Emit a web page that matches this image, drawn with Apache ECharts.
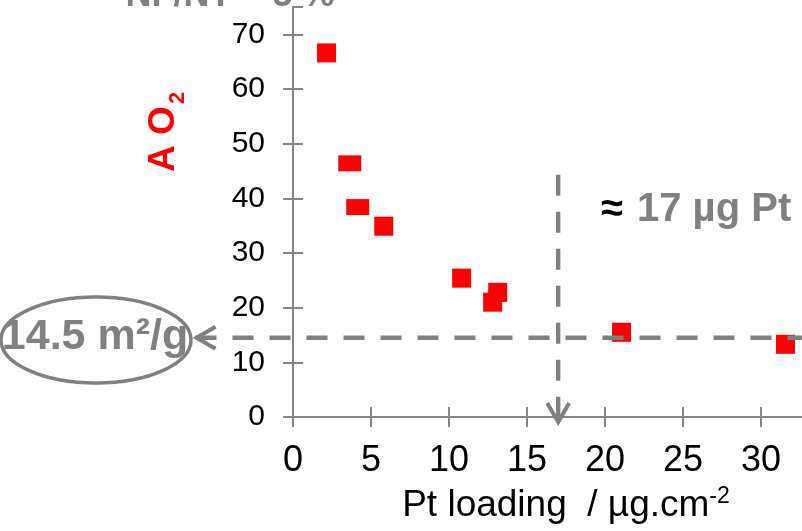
<!DOCTYPE html>
<html>
<head>
<meta charset="utf-8">
<script src="https://cdn.jsdelivr.net/npm/echarts@6/dist/echarts.min.js"></script>
<style>
  html, body { margin: 0; padding: 0; background: #ffffff; }
  #chart { width: 802px; height: 531px; }
</style>
</head>
<body>
<div id="chart"></div>
<script>
// Pt loading (µg/cm²) and the matching O2 area values
const loading = [2.15, 3.64, 4.15, 5.82, 10.81, 13.12, 12.80, 21.06, 31.57];
const areaO2  = [66.6, 46.4, 38.4, 34.9, 25.4, 22.8, 21.0, 15.5, 13.3];

// axis ranges and tick steps
const xRange = [0, 35];
const xStep = 5;
const yRange = [0, 75];
const yStep = 10;

// guide values: plateau area and threshold loading
const plateauArea = 14.5;       // m²/g
const thresholdLoading = 17;    // µg Pt
const guideLeftX = -6.25;       // where the plateau arrow ends (x units)
const guideTopY = 44.3;         // upper end of the threshold line (y units)
const guideBottomY = -1.1;      // tip of the threshold arrow (y units)

// texts
const titleText = 'NF/NT = 5 %';
const plateauText = '14.5 m²/g';
const thresholdText = '17 µg Pt';

const FONT = '"Liberation Sans", Arial, sans-serif';
const GREY = '#808080';
const AXIS = '#868686';

// marker sizes per point (two of the markers are slightly wider and flatter)
const markerSizes = [19, [23, 16], [23, 16], 19, 19, 19, 19, 19, 19];

const chart = echarts.init(document.getElementById('chart'), null, { renderer: 'canvas' });

const axisCommon = {
  type: 'value',
  splitLine: { show: false },
};

const option = {
  animation: false,
  backgroundColor: '#ffffff',
  // the plot area runs past the right edge of the canvas
  grid: { left: 293, width: 546, top: 7, height: 410, containLabel: false, outerBoundsMode: 'none' },
  xAxis: [
    Object.assign({}, axisCommon, {
      min: xRange[0], max: xRange[1], interval: xStep,
      position: 'bottom',
      axisLine: { lineStyle: { color: AXIS, width: 2 } },
      axisTick: { length: 10, lineStyle: { color: AXIS, width: 2 } },
      axisLabel: { fontSize: 36, color: '#000', margin: 26, fontFamily: FONT },
      name: 'Pt loading  / µg.cm{s|-2}',
      nameLocation: 'middle',
      nameGap: 68,
      nameTextStyle: {
        fontSize: 37, color: '#000', fontFamily: FONT, lineHeight: 41,
        rich: { s: { fontSize: 23, fontFamily: FONT, color: '#000', verticalAlign: 'top', lineHeight: 23 } }
      }
    }),
    Object.assign({}, axisCommon, {
      min: xRange[0], max: xRange[1], interval: xStep,
      position: 'bottom',
      axisLine: { show: false },
      axisTick: { inside: true, length: 10, lineStyle: { color: AXIS, width: 2 } },
      axisLabel: { show: false }
    })
  ],
  yAxis: [
    Object.assign({}, axisCommon, {
      min: yRange[0], max: yRange[1], interval: yStep,
      position: 'left',
      axisLine: { show: true, lineStyle: { color: AXIS, width: 2 } },
      axisTick: { show: true, length: 10, lineStyle: { color: AXIS, width: 2 } },
      axisLabel: { fontSize: 30, color: '#000', margin: 28, fontFamily: FONT }
    }),
    Object.assign({}, axisCommon, {
      min: yRange[0], max: yRange[1], interval: yStep,
      position: 'left',
      axisLine: { show: false },
      axisTick: { show: true, inside: true, length: 10, lineStyle: { color: AXIS, width: 2 } },
      axisLabel: { show: false }
    })
  ],
  series: [{
    type: 'scatter',
    xAxisIndex: 0,
    yAxisIndex: 0,
    symbol: 'rect',
    itemStyle: { color: '#ff0000', opacity: 1 },
    z: 2,
    data: loading.map((x, i) => ({ value: [x, areaO2[i]], symbolSize: markerSizes[i] }))
  }]
};

chart.setOption(option);

// annotations placed through the grid's coordinate system
const toPx = (x, y) => chart.convertToPixel({ gridIndex: 0 }, [x, y]);

const hStart = toPx(guideLeftX, plateauArea);
const hEnd = toPx(xRange[1], plateauArea);
const vTop = toPx(thresholdLoading, guideTopY);
const vTip = toPx(thresholdLoading, guideBottomY);

const dash = { stroke: GREY, lineWidth: 4.3, lineDash: [21, 16], lineCap: 'butt' };
const arrow = { stroke: GREY, lineWidth: 4, fill: null, lineJoin: 'miter' };

chart.setOption({
  graphic: [
    // plateau guide
    { type: 'line', z: 10, shape: { x1: hStart[0], y1: hStart[1], x2: hEnd[0], y2: hEnd[1] }, style: dash },
    { type: 'polyline', z: 10, shape: { points: [[hStart[0] + 20, hStart[1] - 11], [hStart[0] + 1, hStart[1]], [hStart[0] + 20, hStart[1] + 11]] }, style: arrow },
    // threshold guide
    { type: 'line', z: 10, shape: { x1: vTop[0], y1: vTop[1], x2: vTip[0], y2: vTip[1] }, style: dash },
    { type: 'polyline', z: 10, shape: { points: [[vTip[0] - 11, vTip[1] - 20], [vTip[0], vTip[1] - 1], [vTip[0] + 11, vTip[1] - 20]] }, style: arrow },
    // plateau label with its ellipse
    { type: 'ellipse', z: 10, shape: { cx: 96, cy: 340, rx: 95, ry: 43 }, style: { stroke: GREY, lineWidth: 3.5, fill: null } },
    { type: 'text', z: 11, x: 95, y: 337, style: { text: plateauText, fontSize: 43, fontWeight: 'bold', fontFamily: FONT, fill: GREY, align: 'center', verticalAlign: 'middle' } },
    // threshold label
    { type: 'text', z: 11, x: 601, y: 210, style: { text: '≈', fontSize: 40, fontWeight: 'bold', fontFamily: FONT, fill: '#000', align: 'left', verticalAlign: 'middle' } },
    { type: 'text', z: 11, x: 637, y: 210, style: { text: thresholdText, fontSize: 40, fontWeight: 'bold', fontFamily: FONT, fill: GREY, align: 'left', verticalAlign: 'middle' } },
    // panel title
    { type: 'text', z: 11, x: 230, y: -4, style: { text: titleText, fontSize: 36, fontWeight: 'bold', fontFamily: FONT, fill: GREY, align: 'center', verticalAlign: 'middle' } },
    // y axis name, reading upward
    { type: 'group', x: 163.5, y: 172, rotation: Math.PI / 2, children: [
        { type: 'text', x: 0, y: 0, style: { text: 'A O', fontSize: 37, fontWeight: 'bold', fontFamily: FONT, fill: '#ff0000', align: 'left', verticalAlign: 'middle' } },
        { type: 'text', x: 68, y: 14, style: { text: '2', fontSize: 22, fontWeight: 'bold', fontFamily: FONT, fill: '#ff0000', align: 'left', verticalAlign: 'middle' } }
      ] }
  ]
});
</script>
</body>
</html>
